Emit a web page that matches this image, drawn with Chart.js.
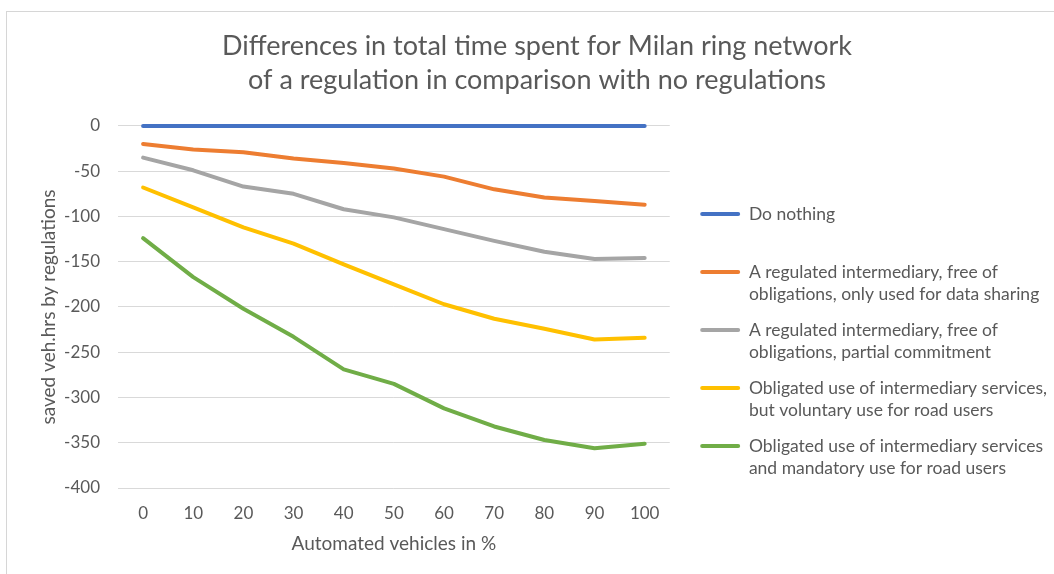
<!DOCTYPE html>
<html>
<head>
<meta charset="utf-8">
<script src="https://cdn.jsdelivr.net/npm/chart.js@4/dist/chart.umd.min.js"></script>
<style>
  html, body { margin: 0; padding: 0; background: #fff; overflow: hidden; }
  #frame {
    position: absolute; left: 6px; top: 11px;
    width: 1062px; height: 563px;
    border-top: 1px solid #D6D6D6; border-left: 1px solid #D6D6D6;
  }
  #frame canvas { display: block; }
</style>
</head>
<body>
<div id="frame"><canvas id="chart" width="1062" height="563"></canvas></div>
<script>
// Share of automated vehicles (%)
const shares = ['0', '10', '20', '30', '40', '50', '60', '70', '80', '90', '100'];

// Saved vehicle hours per regulation scenario
const doNothing      = [0, 0, 0, 0, 0, 0, 0, 0, 0, 0, 0];
const dataSharing    = [-20, -26, -29, -36, -41, -47, -56, -70, -79, -83, -87];
const partialCommit  = [-35, -49, -67, -75, -92, -101, -114, -127, -139, -147, -146];
const voluntaryUse   = [-68, -90, -112, -130, -153, -175, -197, -213, -224, -236, -234];
const mandatoryUse   = [-124, -167, -202, -233, -269, -285, -312, -332, -347, -356, -351];

const seriesNames = [
  ['Do nothing', ''],
  ['A regulated intermediary, free of', 'obligations, only used for data sharing'],
  ['A regulated intermediary, free of', 'obligations, partial commitment'],
  ['Obligated use of intermediary services,', 'but voluntary use for road users'],
  ['Obligated use of intermediary services', 'and mandatory use for road users']
];
const seriesValues = [doNothing, dataSharing, partialCommit, voluntaryUse, mandatoryUse];
const seriesColors = ['#4472C4', '#ED7D31', '#A5A5A5', '#FFC000', '#70AD47'];

const yTicks = [0, -50, -100, -150, -200, -250, -300, -350, -400];

const textColor = '#595959';
const fontFamily = 'Lato, "Open Sans", sans-serif';

new Chart(document.getElementById('chart'), {
  type: 'line',
  data: {
    labels: shares,
    datasets: seriesValues.map((vals, i) => ({
      label: seriesNames[i],
      data: vals,
      borderColor: seriesColors[i],
      backgroundColor: seriesColors[i],
      borderWidth: 4,
      borderCapStyle: 'round',
      borderJoinStyle: 'round',
      pointRadius: 0,
      tension: 0,
      fill: false,
      clip: 6
    }))
  },
  options: {
    responsive: false,
    animation: false,
    layout: { padding: { left: 10, right: 12, top: 0, bottom: 0 } },
    plugins: {
      title: {
        display: true,
        text: ['Differences in total time spent for Milan ring network',
               'of a regulation in comparison with no regulations'],
        color: textColor,
        font: { family: fontFamily, size: 27, weight: 'normal', lineHeight: 1.24 },
        padding: { top: 18, bottom: 29 }
      },
      legend: {
        position: 'right',
        align: 'center',
        maxWidth: 420,
        // empty heading used only as top spacing for the entry column
        title: { display: true, text: '', font: { size: 10, lineHeight: 1 }, padding: { top: 90, bottom: 0 } },
        labels: {
          color: textColor,
          font: { family: fontFamily, size: 17.5, lineHeight: 1.274 },
          boxWidth: 40,
          boxHeight: 4,
          padding: 13.4,
          useBorderRadius: true,
          borderRadius: 2,
          generateLabels: chart => Chart.defaults.plugins.legend.labels.generateLabels(chart)
            .map(item => Object.assign(item, { lineWidth: 0 }))
        }
      },
      tooltip: { enabled: false }
    },
    scales: {
      x: {
        offset: true,
        grid: { display: false },
        border: { display: false },
        afterFit: s => { s.height = 87; },
        ticks: { color: textColor, font: { family: fontFamily, size: 17 }, padding: 7 },
        title: {
          display: true, text: 'Automated vehicles in %', color: textColor,
          font: { family: fontFamily, size: 19 }, padding: { top: 0, bottom: 20 }
        }
      },
      y: {
        min: -400, max: 0,
        afterBuildTicks: axis => { axis.ticks = yTicks.map(v => ({ value: v })); },
        afterFit: s => { s.width = 101; },
        grid: { color: '#D9D9D9', lineWidth: 1, drawTicks: false },
        border: { display: false },
        ticks: { color: textColor, font: { family: fontFamily, size: 17 }, padding: 18 },
        title: {
          display: true, text: 'saved veh.hrs by regulations', color: textColor,
          font: { family: fontFamily, size: 19 }, padding: { top: 20, bottom: 0 }
        }
      },
      gap: {
        position: 'right',
        display: true,
        grid: { display: false },
        border: { display: false },
        ticks: { display: false },
        afterFit: s => { s.width = 17; }
      }
    }
  }
});
</script>
</body>
</html>
